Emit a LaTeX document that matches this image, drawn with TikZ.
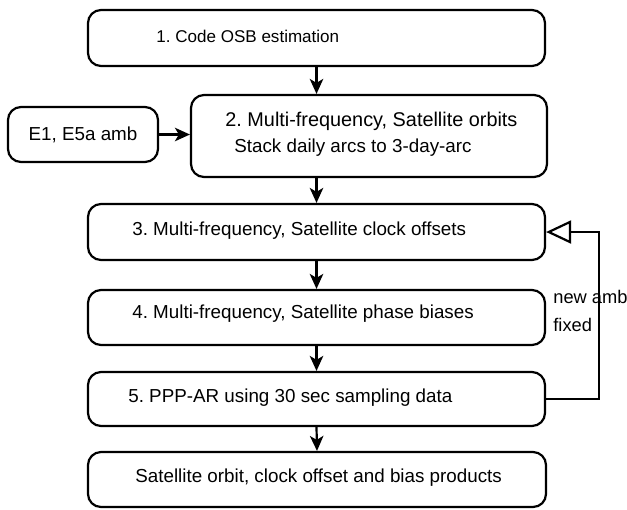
\documentclass[tikz,border=0pt]{standalone}
\usepackage{fontspec}
\setmainfont{Liberation Sans}
\usepackage{tikz}
\usetikzlibrary{
  arrows.meta,
  calc}
\frenchspacing

\begin{document}
\begin{tikzpicture}[
    box/.style={draw, line width=1.25pt, rounded corners=0.26cm, inner sep=0pt},
    txt/.style={anchor=west, inner sep=0pt, font=\fontsize{10.7}{13}\selectfont},
    small/.style={font=\fontsize{9.7}{12}\selectfont},
    large/.style={font=\fontsize{11.3}{13}\selectfont},
    flow/.style={line width=1.25pt, -{Stealth[length=0.3cm, width=0.27cm, inset=0.08cm]}},
    back/.style={line width=1.25pt, -{Triangle[open, length=0.5cm, width=0.46cm]}}]
  \useasboundingbox (0,0) rectangle (12.54,-10.18);

  \node[box, minimum width=9.14cm, minimum height=1.12cm] (b1) at (6.33,-0.76) {};
  \node[box, minimum width=7.12cm, minimum height=1.64cm] (b2) at (7.38,-2.72) {};
  \node[box, minimum width=3.00cm, minimum height=1.10cm] (e1) at (1.66,-2.69) {};
  \node[box, minimum width=9.14cm, minimum height=1.12cm] (b3) at (6.33,-4.64) {};
  \node[box, minimum width=9.14cm, minimum height=1.10cm] (b4) at (6.33,-6.35) {};
  \node[box, minimum width=9.14cm, minimum height=1.08cm] (b5) at (6.33,-7.98) {};
  \node[box, minimum width=9.16cm, minimum height=1.10cm] (b6) at (6.34,-9.59) {};

  \node[txt, small] (t1) at (3.12,-0.72) {1. Code OSB estimation};
  \node[txt, large] (t2a) at (4.50,-2.42) {2. Multi-frequency, Satellite orbits};
  \node[txt] (t2b) at (4.68,-2.96) {Stack daily arcs to 3-day-arc};
  \node[txt, anchor=center] (te1) at (e1) {E1, E5a amb};
  \node[txt] (t3) at (2.64,-4.62) {3. Multi-frequency, Satellite clock offsets};
  \node[txt] (t4) at (2.64,-6.28) {4. Multi-frequency, Satellite phase biases};
  \node[txt] (t5) at (2.56,-7.95) {5. PPP-AR using 30 sec sampling data};
  \node[txt] (t6) at (2.70,-9.55) {Satellite orbit, clock offset and bias products};

  \draw[flow] (b1.south) -- (b1.south |- b2.north);
  \draw[flow] (e1.east) -- (e1.east -| b2.west);
  \draw[flow] (b1.south |- b2.south) -- (b3.north);
  \draw[flow] (b3.south) -- (b4.north);
  \draw[flow] (b4.south) -- (b5.north);
  \draw[flow] (b5.south) -- (b6.north);

  \draw[back] (b5.east) -- ++(1.06,0) |- (b3.east);
  \node[txt, font=\fontsize{10.4}{12}\selectfont] (l1) at (11.06,-5.94) {new amb};
  \node[txt, font=\fontsize{10.4}{12}\selectfont] (l2) at (11.06,-6.50) {fixed};
\end{tikzpicture}
\end{document}
